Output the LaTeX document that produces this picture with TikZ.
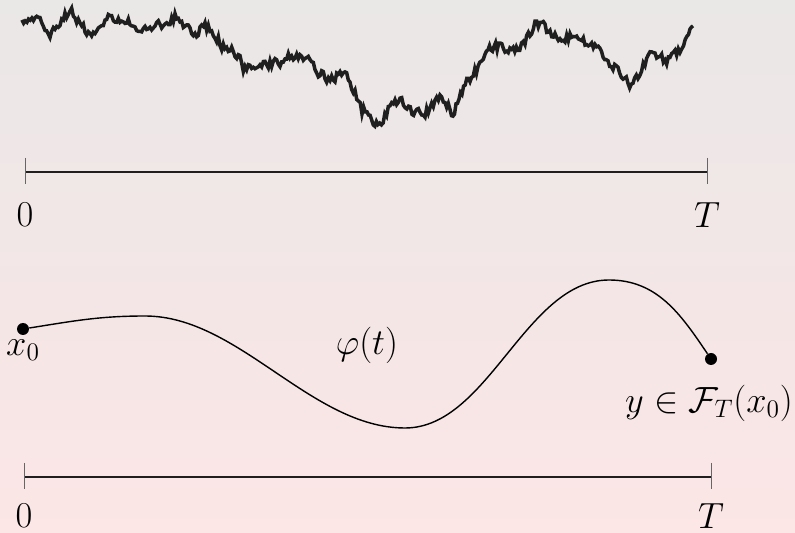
\documentclass[tikz,border=0pt]{standalone}
\begin{document}
\begin{tikzpicture}[x=0.02cm,y=-0.02cm,
  font=\fontsize{20}{24}\selectfont,
  axisline/.style={line width=1.5pt, draw=black!88},
  tickmark/.style={line width=0.5pt, draw=black!60},
  walk/.style={line width=2pt, draw=black!88},
  curveline/.style={line width=0.8pt, draw=black},
  dot/.style={circle, fill=black, inner sep=0pt, minimum size=0.24cm}]
\shade[top color={rgb,255:red,234;green,231;blue,231}, bottom color={rgb,255:red,252;green,230;blue,230}]
  (0,0) rectangle (795,533);
\useasboundingbox (0,0) rectangle (795,533);

% Brownian path
\pgfmathsetseed{11}
\gdef\wpath{(22,20)}
\gdef\noiseval{0}
\foreach \xa/\ya [remember=\xa as \xp (initially 22), remember=\ya as \yp (initially 20)] in
 {40/20,50/32,70/10,80/22,90/38,105/18,120/18,135/25,145/30,160/25,175/17,195/36,205/26,215/35,
  225/50,235/53,245/70,260/65,280/62,295/55,310/57,320/75,335/80,340/70,355/90,362/110,367/108,
  378/128,390/108,400/100,412/110,420/115,430/110,440/97,450/105,453/115,462/90,470/78,478/68,
  485/55,494/46,505/48,518/48,525/43,535/25,545/28,550/35,560/38,570/37,580/42,595/45,608/60,
  618/72,628/84,638/80,645/62,650/50,660/58,670/60,680/48,687/32,693/28}{
  \pgfmathtruncatemacro\nsteps{max(1,round((\xa-\xp)/1.6))}
  \foreach \k in {1,...,\nsteps}{
    \pgfmathsetmacro\xx{\xp+(\xa-\xp)*\k/\nsteps}
    \pgfmathsetmacro\yy{\yp+(\ya-\yp)*\k/\nsteps}
    \pgfmathsetmacro\nn{0.25*\noiseval+5*rand}
    \xdef\noiseval{\nn}
    \pgfmathsetmacro\yf{\yy+\nn}
    \xdef\wpath{\wpath -- (\xx,\yf)}
  }
}
\edef\tmpdraw{\noexpand\draw[walk] \wpath;}
\tmpdraw

% top time axis
\coordinate (a0) at (25,172);
\coordinate (aT) at (707,172);
\draw[axisline] (a0) -- (aT);
\draw[tickmark] ([yshift=8pt]a0) -- ([yshift=-7pt]a0);
\draw[tickmark] ([yshift=8pt]aT) -- ([yshift=-7pt]aT);
\node (l0) at (25,215) {$0$};
\node (lT) at (707,215) {$T$};

% smooth curve
\node[dot] (x0) at (23,329) {};
\node[dot] (y1) at (711,359) {};
\coordinate (c1) at (145,316);
\coordinate (c2) at (405,428);
\coordinate (c3) at (609,280);
\draw[curveline] (x0) to[out=9,in=180] (c1)
  to[out=0,in=180,looseness=0.85] (c2)
  to[out=0,in=180,looseness=0.85] (c3)
  to[out=0,in=124] (y1);
\node (lx0) at (23,350) {$x_0$};
\node (lphi) at (367,345) {$\varphi(t)$};
\node (ly) at (709,403) {$y\in\mathcal{F}_T(x_0)$};

% bottom time axis
\coordinate (b0) at (24,477);
\coordinate (bT) at (711,477);
\draw[axisline] (b0) -- (bT);
\draw[tickmark] ([yshift=8pt]b0) -- ([yshift=-7pt]b0);
\draw[tickmark] ([yshift=8pt]bT) -- ([yshift=-7pt]bT);
\node (m0) at (24,516) {$0$};
\node (mT) at (711,516) {$T$};
\end{tikzpicture}
\end{document}
